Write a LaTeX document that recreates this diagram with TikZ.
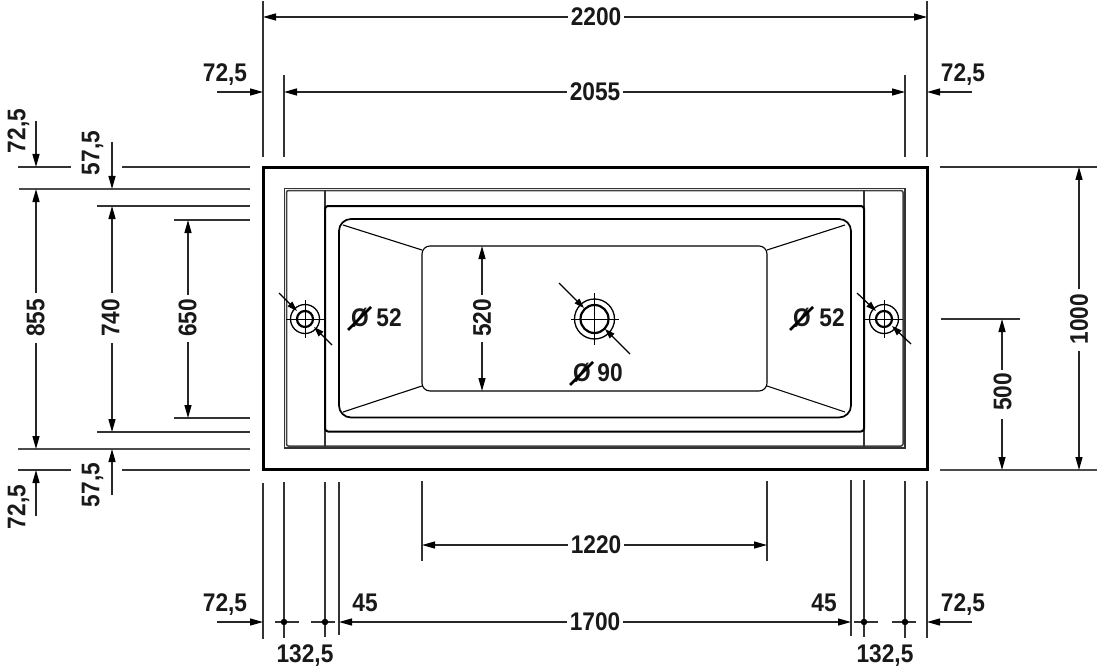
\documentclass[tikz,border=0pt]{standalone}
\usepackage{fontspec}
\setmainfont{Liberation Sans}[FakeStretch=0.89]
\usetikzlibrary{arrows.meta}
\tikzset{
  x=1pt,y=-1pt,
  dimline/.style={line width=1.25pt,black!85},
  arr/.style={dimline,-{Triangle[length=13pt,width=7pt,black]}},
  lead/.style={line width=1.25pt,-{Triangle[length=10pt,width=6.5pt,black]}},
  lab/.style={font=\bfseries\fontsize{25.5}{26}\selectfont,inner sep=0pt,text=black!90},
  vlab/.style={lab,rotate=90},
  ext/.style={line width=1.25pt,black!80},
  extb/.style={line width=1.6pt,black!70},
  dotm/.style={circle,fill=black,inner sep=0pt,minimum size=6.5pt},
}
\newcommand{\holemark}[6]{% x y outer inner hx vx
  \draw[line width=1.3pt] (#1,#2) circle[radius=#3];
  \draw[line width=2.2pt] (#1,#2) circle[radius=#4];
  \draw[line width=.9pt] (#1-#5,#2) -- (#1+#5,#2) (#1,#2-#6) -- (#1,#2+#6);
}
\newcommand{\phimark}[3]{% x y name
  \node[lab] (#3) at (#1,#2) {Ø};
  \draw[line width=2.6pt] (#1-12,#2+12) -- (#1+11,#2-11);
}
\begin{document}
\begin{tikzpicture}
\useasboundingbox (0,0) rectangle (1099,671);
\fill[white] (0,0) rectangle (1099,671);
% tub outlines
\draw[line width=3pt] (263,167.5) rectangle (927,469.5);
\draw[line width=1.8pt,black!80] (284.5,188.5) rectangle (905,448);
\draw[line width=1.5pt,black!75,rounded corners=2pt] (286.5,190.5) rectangle (903,446);
\draw[line width=1.5pt,black!80] (325,190) -- (325,447) (864,190) -- (864,447);
\draw[line width=2pt,rounded corners=3pt] (325,206) rectangle (864,431.5);
\draw[line width=1.7pt,rounded corners=12pt] (339,219) rectangle (851,417.5);
\draw[line width=1.1pt,rounded corners=8pt] (422,246) rectangle (767,391);
\draw[line width=1.1pt] (343,225) -- (422,250) (845,225) -- (767,250) (343,412) -- (422,386) (845,412) -- (767,386);
% holes
\holemark{305}{319}{14.5}{8}{19}{19}
\holemark{884}{319}{14.5}{8}{19}{19}
\holemark{594.5}{319}{20}{14}{24}{26}
\draw[lead] (279,293) -- (297,311);
\draw[lead] (332,345) -- (314,327);
\draw[lead] (857,293) -- (876,311);
\draw[lead] (911,344) -- (892,326);
\draw[lead] (559,283) -- (584,308);
\draw[lead] (630,354) -- (605,329);
% top extensions
\draw[ext] (263,1) -- (263,157) (927,1) -- (927,157) (284,75) -- (284,157) (905,75) -- (905,157);
% top dims
\node[lab] (d2200) at (596,17) {2200};
\draw[arr] (d2200.west)++(-3,0) -- (263,17);
\draw[arr] (d2200.east)++(3,0) -- (927,17);
\node[lab] (d2055) at (595,92) {2055};
\draw[arr] (d2055.west)++(-3,0) -- (284,92);
\draw[arr] (d2055.east)++(3,0) -- (905,92);
\node[lab] (t1) at (225,74.5) {72,5};
\node[lab] (t2) at (963,74.5) {72,5};
\draw[arr] (217,92) -- (263,92);
\draw[arr] (972,92) -- (927,92);
% left extensions
\draw[ext] (18,167) -- (71,167) (122,167) -- (250,167)
           (97,206) -- (250,206) (174,220) -- (250,220)
           (174,418) -- (250,418) (97,432) -- (250,432)
           (18,470) -- (71,470) (122,470) -- (250,470);
\draw[extb] (19,189) -- (250,189) (18,449) -- (250,449);
% left dims
\node[vlab] (l1) at (18.5,131) {72,5};
\draw[arr] (36,121) -- (36,167);
\node[vlab] (l2) at (92.5,153) {57,5};
\draw[arr] (112,142) -- (112,189);
\node[vlab] (l3) at (35.5,318) {855};
\draw[arr] (36,293) -- (36,189);
\draw[arr] (36,343) -- (36,449);
\node[vlab] (l4) at (110.5,318) {740};
\draw[arr] (112,293) -- (112,206);
\draw[arr] (112,343) -- (112,432);
\node[vlab] (l5) at (187.5,318) {650};
\draw[arr] (188,295) -- (188,220);
\draw[arr] (188,342) -- (188,418);
\node[vlab] (l6) at (18.5,507) {72,5};
\draw[arr] (36,516) -- (36,470);
\node[vlab] (l7) at (92.5,485) {57,5};
\draw[arr] (112,495) -- (112,449);
% right dims
\draw[ext] (940,167) -- (1097,167);
\draw[extb] (940,470) -- (1097,470);
\draw[ext] (941,319) -- (1020,319);
\node[vlab] (r1) at (1079,319) {1000};
\draw[arr] (1079,289) -- (1079,167);
\draw[arr] (1079,351) -- (1079,470);
\node[vlab] (r2) at (1002.5,392) {500};
\draw[arr] (1002,370) -- (1002,319);
\draw[arr] (1002,419) -- (1002,470);
% bottom extensions
\draw[ext] (263,483) -- (263,639) (284,482) -- (284,638) (325,482) -- (325,637) (339,482) -- (339,635)
           (422,481) -- (422,561) (767,481) -- (767,561)
           (851,480) -- (851,636) (864,480) -- (864,637) (905,481) -- (905,638) (927,481) -- (927,638);
% bottom dims
\node[lab] (b1) at (596,545) {1220};
\draw[arr] (b1.west)++(-3,0) -- (422,545);
\draw[arr] (b1.east)++(3,0) -- (767,545);
\node[lab] (b2) at (595,622) {1700};
\draw[arr] (b2.west)++(-3,0) -- (339,622);
\draw[arr] (b2.east)++(3,0) -- (851,622);
\node[lab] (b3) at (225,604.5) {72,5};
\node[lab] (b4) at (963,604.5) {72,5};
\node[lab] (b5) at (365,603) {45};
\node[lab] (b6) at (824,603) {45};
\node[lab] (b7) at (305,655.5) {132,5};
\node[lab] (b8) at (885,655.5) {132,5};
\draw[arr] (217,622) -- (263,622);
\draw[arr] (972,622) -- (927,622);
\draw[ext] (275,622) -- (299,622) (311,622) -- (335,622) (854,622) -- (878,622) (892,622) -- (916,622);
\node[dotm] (m1) at (284,622) {};
\node[dotm] (m2) at (325,622) {};
\node[dotm] (m3) at (864,622) {};
\node[dotm] (m4) at (905,622) {};
% diameter labels
\phimark{360}{318}{p1}
\node[lab] (q1) at (389,318) {52};
\phimark{802}{318}{p2}
\node[lab] (q2) at (832,318) {52};
\phimark{582}{373}{p3}
\node[lab] (q3) at (610,373) {90};
% basin depth
\node[vlab] (l9) at (482,318) {520};
\draw[arr] (482,295) -- (482,246);
\draw[arr] (482,342) -- (482,391);
\end{tikzpicture}
\end{document}
